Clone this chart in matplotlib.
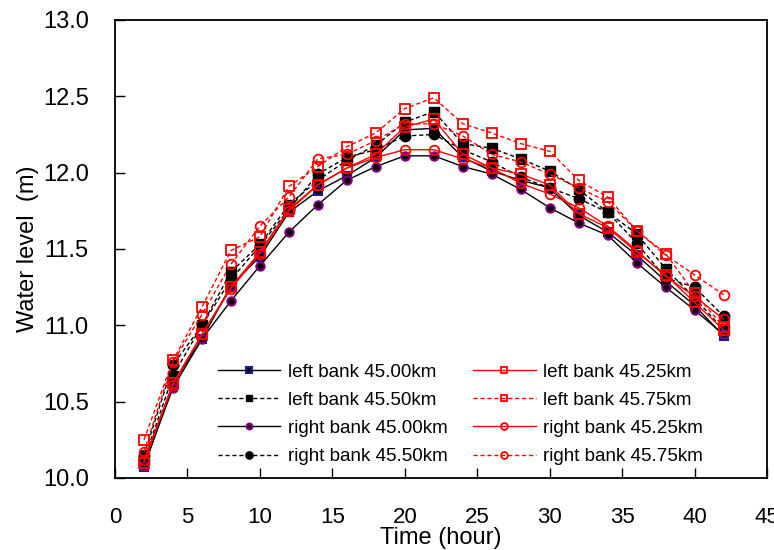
import numpy as np
import matplotlib
matplotlib.use("Agg")
import matplotlib.pyplot as plt

plt.rcParams['font.family'] = ['Liberation Sans', 'DejaVu Sans']

hours = [2, 4, 6, 8, 10, 12, 14, 16, 18, 20, 22, 24, 26, 28, 30, 32, 34, 36, 38, 40, 42]

left_4500 = [10.07, 10.62, 10.91, 11.26, 11.45, 11.74, 11.88, 11.98, 12.10, 12.28, 12.29,
             12.10, 12.01, 11.95, 11.90, 11.72, 11.61, 11.46, 11.29, 11.13, 10.93]
left_4525 = [10.10, 10.62, 10.94, 11.25, 11.48, 11.76, 11.92, 12.03, 12.12, 12.30, 12.35,
             12.12, 12.03, 11.99, 11.92, 11.73, 11.64, 11.48, 11.33, 11.15, 10.97]
left_4550 = [10.12, 10.67, 11.00, 11.35, 11.53, 11.79, 11.95, 12.08, 12.18, 12.33, 12.40,
             12.19, 12.16, 12.09, 12.01, 11.89, 11.74, 11.60, 11.37, 11.18, 10.97]
left_4575 = [10.25, 10.77, 11.12, 11.49, 11.58, 11.91, 12.04, 12.17, 12.26, 12.42, 12.49,
             12.32, 12.26, 12.19, 12.14, 11.95, 11.84, 11.62, 11.47, 11.21, 10.99]
right_4500 = [10.08, 10.59, 10.91, 11.16, 11.39, 11.61, 11.79, 11.95, 12.04, 12.11, 12.11,
              12.04, 11.99, 11.89, 11.77, 11.67, 11.59, 11.41, 11.25, 11.10, 10.94]
right_4525 = [10.12, 10.61, 10.94, 11.24, 11.47, 11.75, 11.92, 12.03, 12.10, 12.15, 12.15,
              12.09, 12.03, 11.93, 11.86, 11.77, 11.65, 11.49, 11.32, 11.19, 11.04]
right_4550 = [10.15, 10.74, 11.00, 11.30, 11.52, 11.76, 11.99, 12.10, 12.15, 12.24, 12.25,
              12.15, 12.07, 11.97, 11.90, 11.83, 11.74, 11.54, 11.31, 11.25, 11.06]
right_4575 = [10.17, 10.76, 11.07, 11.40, 11.65, 11.84, 12.09, 12.12, 12.21, 12.32, 12.32,
              12.24, 12.12, 12.07, 11.99, 11.90, 11.81, 11.62, 11.46, 11.33, 11.20]

dash = (0, (3, 2))

fig = plt.figure(figsize=(7.74, 5.5), dpi=100)
ax = fig.add_axes([0.1486, 0.131, 0.8424, 0.8327])

# left column of the legend
ax.plot(hours, left_4500, color='black', lw=1, marker='s', ms=6,
        mfc='black', mec='#1c1c8c', mew=1.5, label='left bank 45.00km')
ax.plot(hours, left_4550, color='black', lw=1, ls=dash, marker='s', ms=7,
        mfc='black', mec='black', label='left bank 45.50km')
ax.plot(hours, right_4500, color='black', lw=1, marker='o', ms=6,
        mfc='black', mec='#800080', mew=1.5, label='right bank 45.00km')
ax.plot(hours, right_4550, color='black', lw=1, ls=dash, marker='o', ms=7.5,
        mfc='black', mec='black', label='right bank 45.50km')
# right column
ax.plot(hours, left_4525, color='red', lw=1, marker='s', ms=7,
        mfc='none', mec='red', mew=1.3, label='left bank 45.25km')
ax.plot(hours, left_4575, color='red', lw=1, ls=dash, marker='s', ms=7,
        mfc='none', mec='red', mew=1.3, label='left bank 45.75km')
ax.plot(hours, right_4525, color='red', lw=1, marker='o', ms=7,
        mfc='none', mec='red', mew=1.3, label='right bank 45.25km')
ax.plot(hours, right_4575, color='red', lw=1, ls=dash, marker='o', ms=7,
        mfc='none', mec='red', mew=1.3, label='right bank 45.75km')

ax.set_xlim(0, 45)
ax.set_ylim(10.0, 13.0)
ax.set_xticks(np.arange(0, 46, 5))
ax.set_yticks(np.arange(10.0, 13.01, 0.5))
ax.set_yticklabels([f'{v:.1f}' for v in np.arange(10.0, 13.01, 0.5)])
ax.tick_params(direction='in', length=7, width=1)
ax.tick_params(axis='x', pad=21, labelsize=16)
ax.tick_params(axis='y', pad=19, labelsize=17)
for s in ax.spines.values():
    s.set_linewidth(1.3)

ax.set_xlabel('Time (hour)', fontsize=17, labelpad=-1)
ax.set_ylabel('Water level  (m)', fontsize=17, labelpad=3)

ax.legend(ncol=2, frameon=False, loc='upper left', bbox_to_anchor=(0.158, 0.25),
          borderaxespad=0, borderpad=0, fontsize=13.6, handlelength=3.3,
          handletextpad=0.4, columnspacing=1.35, labelspacing=0.58, markerscale=0.7)

fig.savefig('out.png', dpi=100)
